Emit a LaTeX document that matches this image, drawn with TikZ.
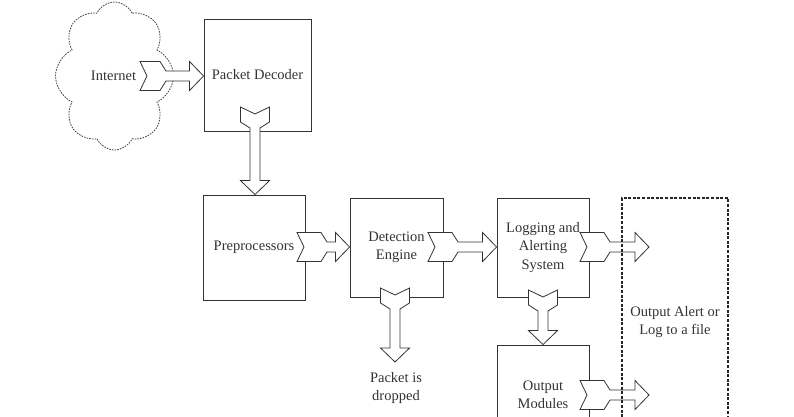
\documentclass[tikz,border=0pt]{standalone}
\usepackage{fontspec}
\setmainfont{Liberation Serif}
\usetikzlibrary{calc,shapes.symbols}
\tikzset{
  box/.style={draw=black!80, line width=0.9pt, inner sep=2pt, align=center},
  fatarrowstyle/.style={draw=black!80, fill=white, line width=0.8pt, line join=miter},
  cloudbox/.style={cloud, draw=black!75, line width=0.8pt, dash pattern=on 1.6pt off 1.1pt,
     cloud puffs=8, cloud puff arc=130, cloud ignores aspect, minimum width=118pt, minimum height=148pt, align=center},
  dashbox/.style={draw=black!85, line width=1.4pt, dash pattern=on 3pt off 1.6pt, align=center},
  lbl/.style={align=center, text=black!80}
}
\newcommand\fatarrow[3][22pt]{%
 \draw[fatarrowstyle]
 ($(#2)!7pt!(#3)$)
 -- ($(#2)!14.5pt!90:(#3)$)
 -- ($($(#2)!#1!(#3)$)!14.5pt!90:(#3)$)
 -- ($($(#2)!#1+6pt!(#3)$)!5pt!90:(#3)$)
 -- ($($(#3)!14pt!(#2)$)!5pt!-90:(#2)$)
 -- ($($(#3)!14pt!(#2)$)!14.5pt!-90:(#2)$)
 -- (#3)
 -- ($($(#3)!14pt!(#2)$)!14.5pt!90:(#2)$)
 -- ($($(#3)!14pt!(#2)$)!5pt!90:(#2)$)
 -- ($($(#2)!#1+6pt!(#3)$)!5pt!-90:(#3)$)
 -- ($($(#2)!#1!(#3)$)!14.5pt!-90:(#3)$)
 -- ($(#2)!14.5pt!-90:(#3)$)
 -- cycle;}
\begin{document}
\begin{tikzpicture}[x=1pt,y=-1pt, every node/.style={font=\fontsize{14.5}{18.5}\selectfont, text=black!80}]
\useasboundingbox (0,0) rectangle (794,417);
% nodes
\node[cloudbox, shape border rotate=22.5] (net) at (114.5,76) {};
\node[lbl] (nettxt) at (113.5,76) {Internet};
\node[box, minimum width=107pt, minimum height=112pt] (dec) at (257.5,75) {Packet Decoder};
\node[box, minimum width=102pt, minimum height=105pt] (pre) at (254,247.5) {Preprocessors};
\node[box, minimum width=93pt, minimum height=99pt] (det) at (396.5,247.5) {Detection\\Engine};
\node[box, minimum width=92pt, minimum height=99pt] (log) at (543,247.5) {Logging and\\Alerting\\System};
\node[box, minimum width=92pt, minimum height=100pt] (outm) at (543,395) {Output\\Modules};
\node[lbl] (drop) at (396,388) {Packet is\\dropped};
% arrow end points
\coordinate (a1) at (140,76);
\coordinate (a2) at (255,107);
\coordinate (a3) at (297,247);
\coordinate (a4) at (428,247);
\coordinate (a5) at (580,247);
\coordinate (a6) at (395,288);
\coordinate (a7) at (543,290);
\coordinate (a8) at (580,395);
\coordinate (t5) at (649,247);
\coordinate (t6) at (395,362);
\coordinate (t8) at (649,395);
% arrows
\fatarrow[20pt]{a1}{a1 -| dec.west}
\fatarrow[15pt]{a2}{a2 |- pre.north}
\fatarrow[24pt]{a3}{a3 -| det.west}
\fatarrow[24pt]{a4}{a4 -| log.west}
\fatarrow[24pt]{a5}{t5}
\fatarrow[15pt]{a6}{t6}
\fatarrow[15pt]{a7}{a7 |- outm.north}
\fatarrow[24pt]{a8}{t8}
% dashed output box
\node[dashbox, minimum width=106pt, minimum height=248pt] (out) at (675,322) {Output Alert or\\Log to a file};
\end{tikzpicture}
\end{document}
